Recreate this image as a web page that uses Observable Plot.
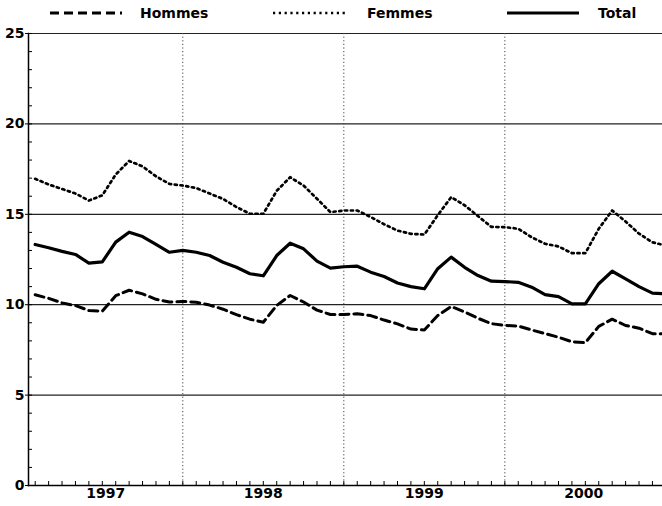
<!DOCTYPE html>
<html><head><meta charset="utf-8">
<script src="https://cdn.jsdelivr.net/npm/d3@7"></script>
<script src="https://cdn.jsdelivr.net/npm/@observablehq/plot@0.6"></script>
<style>
body{margin:0;background:#fff;width:662px;height:506px;overflow:hidden;font-family:"DejaVu Sans",sans-serif;}
#legend{position:relative;height:26px;width:662px;}
.sw{position:absolute;top:0;}
.lbl{position:absolute;top:5px;font-weight:bold;font-size:14px;color:#000;line-height:16px;}
</style></head><body>
<div id="legend"></div>
<div id="chart"></div>
<script>
// Months: Feb 1997 .. Jan 2001
const months = d3.utcMonths(new Date(Date.UTC(1997, 1, 1)), new Date(Date.UTC(2001, 1, 1)));
const hommes = [10.55,10.35,10.1,9.95,9.68,9.64,10.5,10.8,10.6,10.3,10.15,
  10.18,10.14,9.98,9.75,9.45,9.2,9.03,9.96,10.51,10.15,9.7,9.46,
  9.46,9.5,9.4,9.15,8.94,8.65,8.6,9.4,9.9,9.6,9.25,8.95,
  8.85,8.82,8.6,8.4,8.2,7.95,7.9,8.8,9.2,8.85,8.7,8.4,
  8.4];
const femmes = [16.96,16.65,16.4,16.15,15.76,16.05,17.2,17.95,17.65,17.1,16.68,
  16.59,16.45,16.15,15.85,15.4,15.03,15.03,16.3,17.05,16.59,15.86,15.12,
  15.21,15.21,14.85,14.45,14.1,13.92,13.88,14.95,15.95,15.5,14.9,14.3,
  14.29,14.2,13.73,13.37,13.22,12.85,12.85,14.2,15.21,14.6,13.93,13.45,
  13.27];
const total = [13.33,13.15,12.95,12.78,12.30,12.37,13.46,14.01,13.77,13.33,12.90,
  13.0,12.9,12.72,12.35,12.07,11.71,11.6,12.72,13.4,13.09,12.41,12.02,
  12.1,12.13,11.8,11.56,11.2,11.0,10.88,11.99,12.63,12.07,11.61,11.3,
  11.28,11.24,10.97,10.56,10.45,10.05,10.05,11.16,11.85,11.43,11.0,10.64,
  10.6];
const seriesNames = ["Hommes", "Femmes", "Total"];
const yearLabels = ["1997", "1998", "1999", "2000"];
const yTicks = [0, 5, 10, 15, 20, 25];

const styles = {
  Hommes: {dash: "9,5", width: 3},
  Femmes: {dash: "2.2,3.6", width: 2.7},
  Total: {dash: null, width: 3.2}
};

// month index since Jan 1997
const tIdx = months.map(d => (d.getUTCFullYear() - 1997) * 12 + d.getUTCMonth());
const seriesVals = {Hommes: hommes, Femmes: femmes, Total: total};
const rows = seriesNames.map(s => tIdx.map((t, i) => ({t, v: seriesVals[s][i], s})));

const xDomain = [0.5, 47.75];
const yearStarts = yearLabels.slice(1).map(y => (+y - 1997) * 12);
const yearCenter = y => {
  const lo = Math.max((+y - 1997) * 12, xDomain[0]);
  const hi = Math.min((+y - 1996) * 12, xDomain[1]);
  return (lo + hi) / 2;
};
const monthTicks = d3.range(1, 48);

// Legend
const legend = document.getElementById("legend");
const legPos = {Hommes: [50, 140], Femmes: [273, 367], Total: [507, 598]};
seriesNames.forEach(s => {
  const [sx, tx] = legPos[s];
  const st = styles[s];
  const svg = `<svg class="sw" style="left:${sx}px" width="74" height="26"><line x1="0" x2="72" y1="13" y2="13" stroke="#000" stroke-width="${st.width}" ${st.dash ? `stroke-dasharray="${st.dash}"` : ""}/></svg>`;
  legend.insertAdjacentHTML("beforeend", svg + `<span class="lbl" style="left:${tx}px">${s}</span>`);
});

const chart = Plot.plot({
  width: 662, height: 480,
  marginLeft: 28, marginRight: 0, marginTop: 7, marginBottom: 21,
  x: {type: "linear", domain: xDomain},
  y: {domain: [0, 25]},
  style: {fontFamily: "DejaVu Sans", fontSize: "14px", fontWeight: "bold", color: "#000", background: "#fff"},
  marks: [
    Plot.gridY(yTicks.filter(d => d > 0), {stroke: "#222", strokeOpacity: 1, strokeWidth: 1.2}),
    Plot.ruleX(yearStarts, {stroke: "#444", strokeWidth: 1, strokeDasharray: "1.2,2.4"}),
    Plot.axisY(d3.range(0, 26), {tickSize: -4, tickFormat: () => "", label: null, stroke: "#000"}),
    Plot.axisY(yTicks, {tickSize: 3, tickPadding: 1, label: null, stroke: "#000", fill: "#000", fontSize: 14}),
    Plot.axisX(monthTicks, {tickSize: -4, tickFormat: () => "", label: null, stroke: "#000"}),
    Plot.frame({anchor: "left", stroke: "#000", strokeWidth: 1.5}),
    Plot.frame({anchor: "bottom", stroke: "#000", strokeWidth: 1.5}),
    ...rows.map((r, k) => {
      const st = styles[seriesNames[k]];
      return Plot.line(r, {x: "t", y: "v", stroke: "#000", strokeWidth: st.width,
        strokeDasharray: st.dash, clip: true, strokeLinejoin: "round"});
    }),
    Plot.text(yearLabels, {x: yearCenter, frameAnchor: "bottom", dy: 12, text: d => d,
      fontSize: 14, fontWeight: "bold", fill: "#000"})
  ]
});
document.getElementById("chart").appendChild(chart);
</script>
</body></html>
